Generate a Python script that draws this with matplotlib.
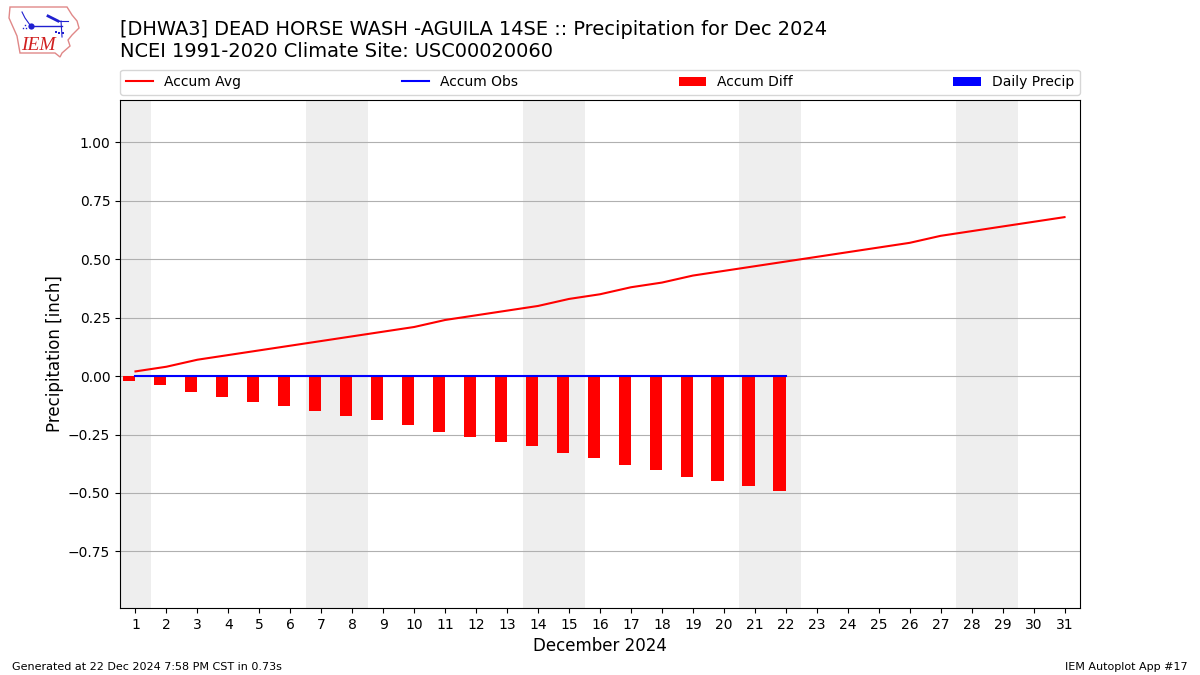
import matplotlib
matplotlib.use("Agg")
import matplotlib.pyplot as plt
from matplotlib.patches import Polygon

days = list(range(1, 32))
accum_avg = [0.02, 0.04, 0.07, 0.09, 0.11, 0.13, 0.15, 0.17, 0.19, 0.21, 0.24,
             0.26, 0.28, 0.30, 0.33, 0.35, 0.38, 0.40, 0.43, 0.45, 0.47, 0.49,
             0.51, 0.53, 0.55, 0.57, 0.60, 0.62, 0.64, 0.66, 0.68]
obs_days = list(range(1, 23))
accum_obs = [0.0] * 22
accum_diff = [-0.02, -0.04, -0.07, -0.09, -0.11, -0.13, -0.15, -0.17, -0.19,
              -0.21, -0.24, -0.26, -0.28, -0.30, -0.33, -0.35, -0.38, -0.40,
              -0.43, -0.45, -0.47, -0.49]
daily_precip = [0.0] * 22
weekends = [(0.5, 1.5), (6.5, 8.5), (13.5, 15.5), (20.5, 22.5), (27.5, 29.5)]
y_ticks = [-0.75, -0.50, -0.25, 0.0, 0.25, 0.50, 0.75, 1.00]

fig = plt.figure(figsize=(12, 6.75), dpi=100)
ax = fig.add_axes([0.1, 0.0995, 0.8, 0.7525])

for a, b in weekends:
    ax.axvspan(a, b, color="#EEEEEE", lw=0, zorder=0.2)

ax.plot(days, accum_avg, color="red", lw=1.5, label="Accum Avg", zorder=3)
ax.plot(obs_days, accum_obs, color="blue", lw=1.5, label="Accum Obs", zorder=4)
ax.bar(obs_days, accum_diff, width=-0.4, align="edge", color="red",
       label="Accum Diff", zorder=2)
ax.bar(obs_days, daily_precip, width=0.4, align="edge", color="blue",
       label="Daily Precip", zorder=2)

ax.set_xlim(0.5, 31.5)
ax.set_ylim(-0.9915, 1.1815)
ax.set_xticks(days)
ax.set_yticks(y_ticks)
ax.set_axisbelow(True)
ax.yaxis.grid(True, color="#B0B0B0", lw=0.8)
ax.tick_params(axis="both", labelsize=10)
ax.set_xlabel("December 2024", fontsize=12)
ax.set_ylabel("Precipitation [inch]", fontsize=12, labelpad=3)
ax.legend(loc="lower left", bbox_to_anchor=(0, 1.01, 1, 0.05), ncol=4,
          mode="expand", borderaxespad=0, fontsize=10)

fig.text(0.1, 0.91, "[DHWA3] DEAD HORSE WASH -AGUILA 14SE :: Precipitation for Dec 2024\n"
         "NCEI 1991-2020 Climate Site: USC00020060",
         fontsize=13.99, ha="left", va="bottom", linespacing=1.2)
fig.text(0.01, 0.012, "Generated at 22 Dec 2024 7:58 PM CST in 0.73s", fontsize=8, ha="left", va="center")
fig.text(0.99, 0.012, "IEM Autoplot App #17", fontsize=8, ha="right", va="center")

# IEM logo, drawn in pixel coordinates
logo = fig.add_axes([0, 0.9, 0.0867, 0.1])
logo.set_xlim(0, 104)
logo.set_ylim(67.5, 0)
logo.axis("off")
state = [(10, 7), (67, 7), (72, 15), (77, 21), (79, 28), (72, 35), (68, 40),
         (70, 46), (62, 53), (60, 57), (55, 53), (20, 53), (17, 36), (9, 18)]
logo.add_patch(Polygon(state, closed=True, fill=False, edgecolor="#E08888", lw=1))
blue = "#2020D0"
logo.plot([31, 62], [26, 26], color=blue, lw=1)
logo.plot([31], [26], "o", color=blue, ms=4.5, mew=0)
logo.plot([22, 25, 30], [12, 18, 25], color=blue, lw=0.8)
logo.plot([48, 58], [16, 21], color=blue, lw=2)
logo.plot([58, 68], [21, 21], color=blue, lw=0.8)
logo.plot([61, 62], [21, 37], color=blue, lw=0.8)
logo.plot([23, 26, 25], [28, 28, 25], "s", color=blue, ms=1, mew=0)
logo.plot([56, 59, 63], [32, 33, 33], "s", color=blue, ms=1.5, mew=0)
logo.text(38, 45.5, "IEM", color="#D02020", fontsize=14, family="Liberation Serif",
          style="italic", ha="center", va="center")

fig.savefig("out.png", dpi=100)
